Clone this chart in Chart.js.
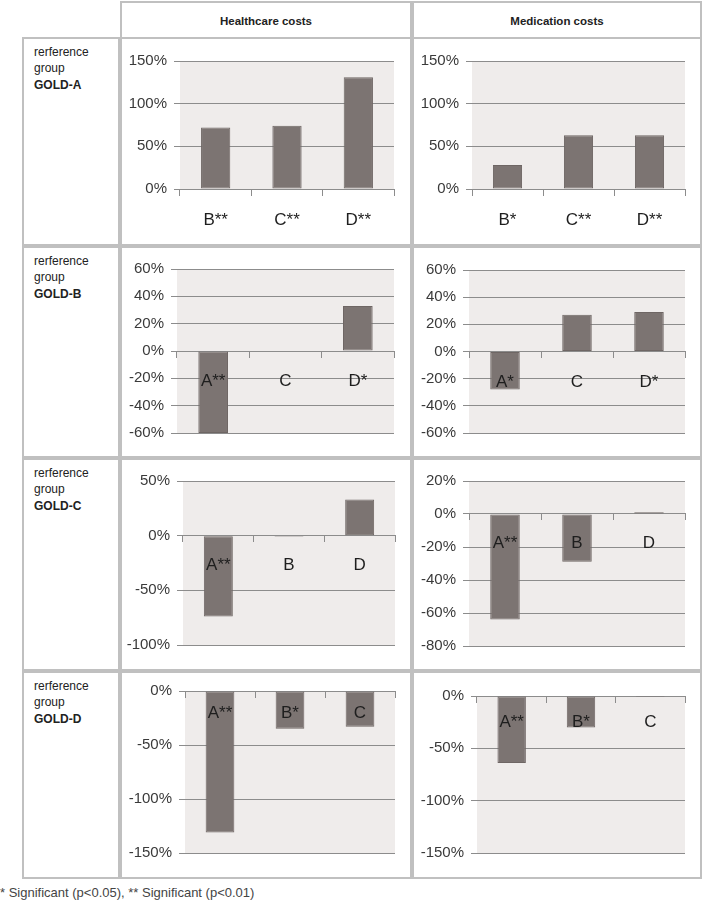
<!DOCTYPE html>
<html>
<head>
<meta charset="utf-8">
<script src="https://cdn.jsdelivr.net/npm/chart.js@4.4.0/dist/chart.umd.min.js"></script>
<style>
body { margin:0; width:703px; height:911px; background:#fff; position:relative; overflow:hidden;
       font-family:'Liberation Sans', Arial, sans-serif; }
.cell { position:absolute; box-sizing:border-box; border:2px solid #c0c0c0; }
.head { font-size:11.5px; font-weight:bold; color:#222; text-align:center; line-height:36px; }
.lab { font-size:12px; color:#222; padding:5px 0 0 10px; line-height:16.3px; }
canvas { position:absolute; }
#note { position:absolute; left:0; top:885px; font-size:13px; color:#444; }
</style>
</head>
<body>
<div id="page"></div>
<div id="note">* Significant (p&lt;0.05), ** Significant (p&lt;0.01)</div>
<script>
// values (% difference vs the reference group)
const hcA_labels = ['B**', 'C**', 'D**'];
const hcA_values = [72, 74, 131];
const medA_labels = ['B*', 'C**', 'D**'];
const medA_values = [28, 63, 63];

const hcB_labels = ['A**', 'C', 'D*'];
const hcB_values = [-60, 0, 33];
const medB_labels = ['A*', 'C', 'D*'];
const medB_values = [-28, 27, 29];

const hcC_labels = ['A**', 'B', 'D'];
const hcC_values = [-74, -1, 33];
const medC_labels = ['A**', 'B', 'D'];
const medC_values = [-64, -29, 1];

const hcD_labels = ['A**', 'B*', 'C'];
const hcD_values = [-131, -35, -33];
const medD_labels = ['A**', 'B*', 'C'];
const medD_values = [-64, -30, -1];

const groups = ['GOLD-A', 'GOLD-B', 'GOLD-C', 'GOLD-D'];
const columns = ['Healthcare costs', 'Medication costs'];

const page = document.getElementById('page');
const rows = [[37, 246], [246, 458], [458, 671], [671, 879]];
const colX = [[120, 412], [412, 702]];

function box(l, t, r, b, cls, html) {
    const d = document.createElement('div');
    d.className = 'cell ' + (cls || '');
    d.style.left = l + 'px';
    d.style.top = t + 'px';
    d.style.width = (r - l) + 'px';
    d.style.height = (b - t) + 'px';
    if (html) d.innerHTML = html;
    page.appendChild(d);
    return d;
}

columns.forEach((c, i) => box(colX[i][0], 1, colX[i][1], 39, 'head', c));
groups.forEach((g, i) => {
    box(22, rows[i][0], 120, rows[i][1], 'lab', 'rerference<br>group<br><b>' + g + '</b>');
    box(colX[0][0], rows[i][0], colX[0][1], rows[i][1]);
    box(colX[1][0], rows[i][0], colX[1][1], rows[i][1]);
});

const plotBg = {
    id: 'plotBg',
    beforeDraw(chart) {
        const a = chart.chartArea, ctx = chart.ctx;
        ctx.save();
        ctx.fillStyle = '#efeceb';
        ctx.fillRect(a.left, a.top, a.right - a.left, a.bottom - a.top);
        ctx.restore();
    }
};

const tickFont = "'Liberation Sans', Arial, sans-serif";

function makeChart(row, col, plot, labels, values, min, max, step, lh) {
    const cl = colX[col][0] + 2, ct = rows[row][0] + 2;
    const cw = colX[col][1] - colX[col][0] - 4, ch = rows[row][1] - rows[row][0] - 4;
    const cv = document.createElement('canvas');
    cv.width = cw; cv.height = ch;
    cv.style.left = cl + 'px'; cv.style.top = ct + 'px';
    cv.style.width = cw + 'px'; cv.style.height = ch + 'px';
    page.appendChild(cv);

    new Chart(cv.getContext('2d'), {
        type: 'bar',
        data: {
            labels: labels,
            datasets: [{
                data: values,
                backgroundColor: '#7c7472',
                borderColor: '#6e6664',
                borderWidth: 1,
                borderSkipped: false,
                barPercentage: 0.41,
                categoryPercentage: 1
            }]
        },
        options: {
            responsive: false,
            animation: false,
            layout: {
                padding: {
                    left: 0,
                    top: plot[1] - ct,
                    right: cl + cw - plot[2],
                    bottom: ct + ch - plot[3]
                }
            },
            plugins: { legend: { display: false }, tooltip: { enabled: false } },
            scales: {
                x: {
                    position: { y: 0 },
                    grid: { offset: true, drawOnChartArea: false, tickLength: 6, color: '#8c8c8c' },
                    border: { color: '#8c8c8c' },
                    ticks: { z: 1, padding: 0, color: '#1e1e1e', font: { family: tickFont, size: 17, lineHeight: lh } }
                },
                y: {
                    min: min,
                    max: max,
                    afterFit: s => { s.width = plot[0] - cl; },
                    border: { display: false },
                    grid: { color: '#8c8c8c', tickLength: 6 },
                    ticks: {
                        stepSize: step,
                        padding: 7,
                        color: '#3a3a3a',
                        font: { family: tickFont, size: 15 },
                        callback: v => v + '%'
                    }
                }
            }
        },
        plugins: [plotBg]
    });
}

// plot rectangles: [left, top, right, bottom] in page pixels
makeChart(0, 0, [180, 61, 394, 189], hcA_labels, hcA_values, 0, 150, 50, 3.0);
makeChart(0, 1, [472, 61, 685, 189], medA_labels, medA_values, 0, 150, 50, 3.0);
makeChart(1, 0, [177, 269, 394, 433], hcB_labels, hcB_values, -60, 60, 20, 2.9);
makeChart(1, 1, [469, 270, 685, 433], medB_labels, medB_values, -60, 60, 20, 2.9);
makeChart(2, 0, [183, 481, 395, 645], hcC_labels, hcC_values, -100, 50, 50, 2.8);
makeChart(2, 1, [469, 481, 685, 646], medC_labels, medC_values, -80, 20, 20, 2.8);
makeChart(3, 0, [185, 691, 395, 853], hcD_labels, hcD_values, -150, 0, 50, 1.9);
makeChart(3, 1, [477, 696, 685, 853], medD_labels, medD_values, -150, 0, 50, 2.4);
</script>
</body>
</html>
